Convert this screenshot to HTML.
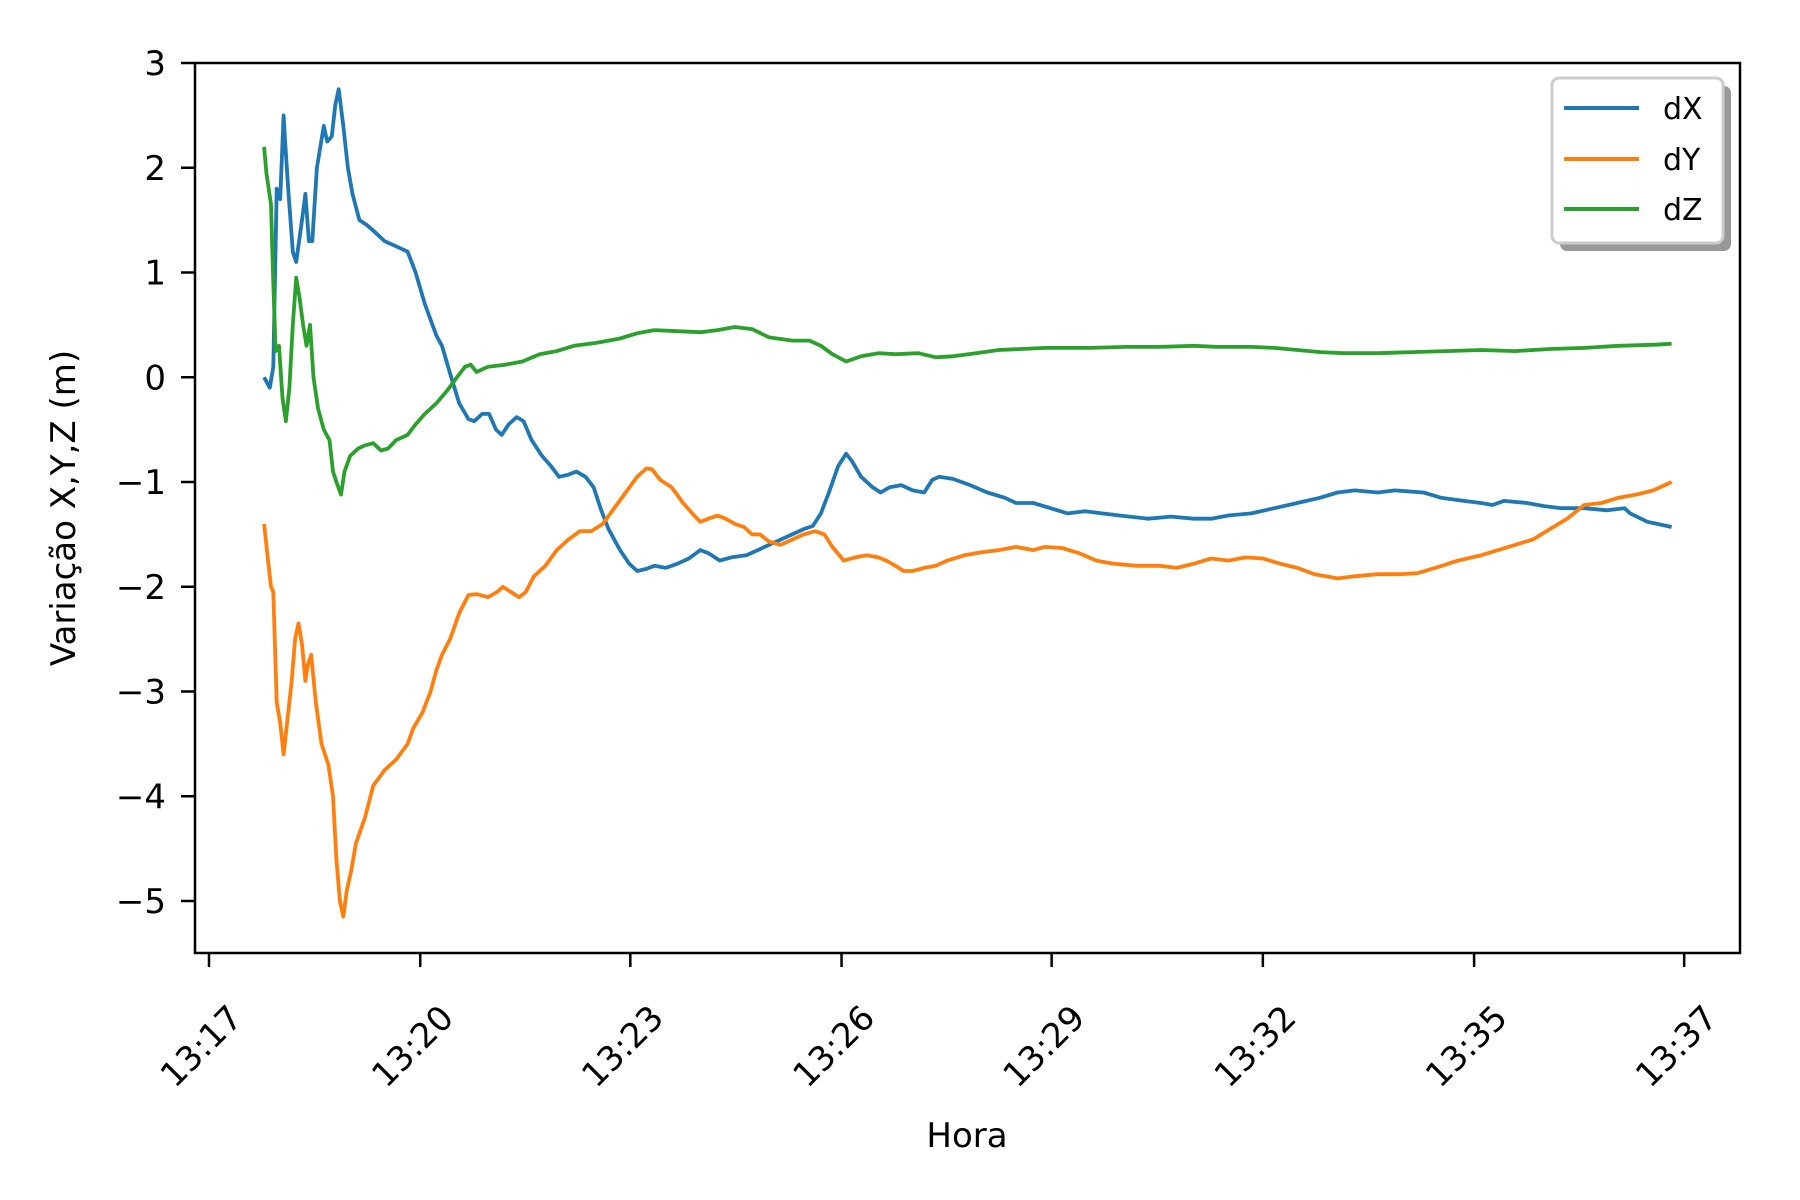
<!DOCTYPE html>
<html><head><meta charset="utf-8"><style>
html,body{margin:0;padding:0;background:#fff;}
svg{display:block;font-family:"DejaVu Sans","Liberation Sans",sans-serif;}
</style></head><body>
<svg id="chart" width="1800" height="1200" viewBox="0 0 1800 1200" xmlns="http://www.w3.org/2000/svg">
<rect x="0" y="0" width="1800" height="1200" fill="#fff"/>
<g id="series"></g>
<rect x="195" y="63" width="1545" height="890" fill="none" stroke="#000" stroke-width="2.5"/>
<g id="axes"></g>
<text x="967" y="1147" font-size="34" text-anchor="middle">Hora</text>
<text transform="translate(75,508) rotate(-90)" font-size="34" text-anchor="middle">Variação X,Y,Z (m)</text>
<g>
<rect x="1560" y="86" width="171" height="165" rx="7" fill="#999"/>
<rect x="1552" y="78" width="171" height="165" rx="7" fill="#fff" stroke="#ccc" stroke-width="3"/>
<line x1="1564" y1="108" x2="1639" y2="108" stroke="#1f77b4" stroke-width="4"/>
<text x="1663" y="119" font-size="30">dX</text>
<line x1="1564" y1="159" x2="1639" y2="159" stroke="#ff7f0e" stroke-width="4"/>
<text x="1663" y="170" font-size="30">dY</text>
<line x1="1564" y1="209" x2="1639" y2="209" stroke="#2ca02c" stroke-width="4"/>
<text x="1663" y="220" font-size="30">dZ</text>
</g>
</svg>
<script>
// time in seconds after 13:17 (approx.), values in metres
const xTickTimes = [0,184,367,551,734,918,1102,1285];
const xTickLabels = ["13:17","13:20","13:23","13:26","13:29","13:32","13:35","13:37"];
const yTickValues = [3,2,1,0,-1,-2,-3,-4,-5];
const yTickLabels = ["3","2","1","0","\u22121","\u22122","\u22123","\u22124","\u22125"];

const dxT = [48,53,56,59,62,65,66,69,73,76,81,84,87,90,94,100,103,107,110,113,117,121,125,131,138,143,148,153,163,173,180,188,198,203,211,218,226,231,238,244,250,255,261,268,274,281,290,298,305,313,320,328,335,341,348,358,366,373,381,388,398,408,418,428,435,445,455,468,478,488,498,508,518,526,533,540,548,555,560,568,578,585,593,603,613,623,630,636,648,663,678,693,703,718,733,748,763,778,793,818,838,858,873,888,908,928,948,968,983,998,1018,1033,1058,1073,1093,1108,1118,1128,1148,1163,1178,1198,1218,1233,1238,1253,1274];
const dxV = [0,-0.1,0.1,1.8,1.7,2.5,2.3,1.8,1.2,1.1,1.5,1.75,1.3,1.3,2.0,2.4,2.25,2.3,2.6,2.75,2.4,2.0,1.75,1.5,1.45,1.4,1.35,1.3,1.25,1.2,1.0,0.7,0.4,0.3,0.0,-0.25,-0.4,-0.42,-0.35,-0.35,-0.5,-0.55,-0.45,-0.38,-0.42,-0.6,-0.75,-0.85,-0.95,-0.93,-0.9,-0.95,-1.05,-1.25,-1.45,-1.65,-1.78,-1.85,-1.83,-1.8,-1.82,-1.78,-1.73,-1.65,-1.68,-1.75,-1.72,-1.7,-1.65,-1.6,-1.55,-1.5,-1.45,-1.42,-1.3,-1.1,-0.85,-0.73,-0.8,-0.95,-1.05,-1.1,-1.05,-1.03,-1.08,-1.1,-0.98,-0.95,-0.97,-1.03,-1.1,-1.15,-1.2,-1.2,-1.25,-1.3,-1.28,-1.3,-1.32,-1.35,-1.33,-1.35,-1.35,-1.32,-1.3,-1.25,-1.2,-1.15,-1.1,-1.08,-1.1,-1.08,-1.1,-1.15,-1.18,-1.2,-1.22,-1.18,-1.2,-1.23,-1.25,-1.25,-1.27,-1.25,-1.3,-1.38,-1.43];

const dyT = [48,51,54,56,59,62,65,68,72,75,78,81,84,86,89,93,98,104,108,111,114,117,120,124,128,136,143,153,163,173,178,186,193,198,203,210,218,226,233,243,251,256,263,270,276,283,293,303,313,323,333,343,353,363,373,381,386,393,403,413,421,428,435,443,450,458,466,473,480,488,498,508,518,528,536,543,553,563,573,583,590,598,605,613,623,633,643,658,673,688,703,718,728,743,758,773,788,808,828,843,858,873,888,903,918,933,948,963,983,998,1018,1038,1053,1068,1088,1108,1123,1138,1153,1168,1183,1198,1213,1228,1243,1258,1274];
const dyV = [-1.4,-1.7,-2.0,-2.05,-3.1,-3.3,-3.6,-3.3,-2.9,-2.5,-2.35,-2.55,-2.9,-2.75,-2.65,-3.1,-3.5,-3.7,-4.0,-4.6,-5.0,-5.15,-4.9,-4.7,-4.45,-4.2,-3.9,-3.75,-3.65,-3.5,-3.35,-3.2,-3.0,-2.8,-2.65,-2.5,-2.25,-2.08,-2.07,-2.1,-2.05,-2.0,-2.05,-2.1,-2.05,-1.9,-1.8,-1.65,-1.55,-1.47,-1.47,-1.4,-1.25,-1.1,-0.95,-0.87,-0.88,-0.98,-1.05,-1.2,-1.3,-1.38,-1.35,-1.32,-1.35,-1.4,-1.43,-1.5,-1.5,-1.57,-1.6,-1.55,-1.5,-1.47,-1.5,-1.62,-1.75,-1.72,-1.7,-1.72,-1.75,-1.8,-1.85,-1.85,-1.82,-1.8,-1.75,-1.7,-1.67,-1.65,-1.62,-1.65,-1.62,-1.63,-1.68,-1.75,-1.78,-1.8,-1.8,-1.82,-1.78,-1.73,-1.75,-1.72,-1.73,-1.78,-1.82,-1.88,-1.92,-1.9,-1.88,-1.88,-1.87,-1.82,-1.75,-1.7,-1.65,-1.6,-1.55,-1.45,-1.35,-1.22,-1.2,-1.15,-1.12,-1.08,-1.0];

const dzT = [48,50,54,56,58,61,64,67,70,73,76,79,82,85,88,91,95,100,105,108,111,115,118,123,130,136,143,150,156,163,173,180,188,198,208,216,223,228,233,243,258,273,288,303,318,338,358,373,388,408,428,443,458,473,488,508,523,533,543,555,568,583,598,618,633,648,668,688,708,728,748,768,798,828,858,878,908,928,948,968,988,1018,1048,1078,1108,1138,1168,1198,1228,1258,1274];
const dzV = [2.2,1.95,1.65,0.9,0.25,0.3,-0.2,-0.42,-0.1,0.5,0.95,0.75,0.5,0.3,0.5,0.0,-0.3,-0.5,-0.6,-0.9,-1.0,-1.12,-0.9,-0.75,-0.68,-0.65,-0.63,-0.7,-0.68,-0.6,-0.55,-0.45,-0.35,-0.25,-0.12,0.0,0.1,0.12,0.05,0.1,0.12,0.15,0.22,0.25,0.3,0.33,0.37,0.42,0.45,0.44,0.43,0.45,0.48,0.46,0.38,0.35,0.35,0.3,0.22,0.15,0.2,0.23,0.22,0.23,0.19,0.2,0.23,0.26,0.27,0.28,0.28,0.28,0.29,0.29,0.3,0.29,0.29,0.28,0.26,0.24,0.23,0.23,0.24,0.25,0.26,0.25,0.27,0.28,0.3,0.31,0.32];

const NS = "http://www.w3.org/2000/svg";
function xPos(t){ return 209 + t*1.148; }
function yPos(v){ return 63 + (3 - v)*104.75; }

const seriesG = document.getElementById("series");
function drawSeries(ts, vs, color, name){
  const p = document.createElementNS(NS, "path");
  let d = "";
  for (let i=0;i<ts.length;i++){ d += (i?"L":"M") + xPos(ts[i]).toFixed(1) + "," + yPos(vs[i]).toFixed(1); }
  p.setAttribute("d", d);
  p.setAttribute("fill", "none");
  p.setAttribute("stroke", color);
  p.setAttribute("stroke-width", "3.8");
  p.setAttribute("stroke-linejoin", "round");
  
  
  seriesG.appendChild(p);
}
drawSeries(dxT, dxV, "#1f77b4", "series-dx-line");
drawSeries(dyT, dyV, "#ff7f0e", "series-dy-line");
drawSeries(dzT, dzV, "#2ca02c", "series-dz-line");

const axesG = document.getElementById("axes");
for (let i=0;i<yTickValues.length;i++){
  const y = yPos(yTickValues[i]);
  const l = document.createElementNS(NS, "line");
  l.setAttribute("x1", 181); l.setAttribute("x2", 195);
  l.setAttribute("y1", y); l.setAttribute("y2", y);
  l.setAttribute("stroke", "#000"); l.setAttribute("stroke-width", "2.5");
  
  
  axesG.appendChild(l);
  const t = document.createElementNS(NS, "text");
  t.setAttribute("x", 166); t.setAttribute("y", y + 12);
  t.setAttribute("font-size", "34"); t.setAttribute("text-anchor", "end");
  t.textContent = yTickLabels[i];
  
  
  axesG.appendChild(t);
}
for (let i=0;i<xTickTimes.length;i++){
  const x = xPos(xTickTimes[i]);
  const l = document.createElementNS(NS, "line");
  l.setAttribute("x1", x); l.setAttribute("x2", x);
  l.setAttribute("y1", 953); l.setAttribute("y2", 967);
  l.setAttribute("stroke", "#000"); l.setAttribute("stroke-width", "2.5");
  
  
  axesG.appendChild(l);
  const t = document.createElementNS(NS, "text");
  t.setAttribute("x", 0); t.setAttribute("y", 12);
  t.setAttribute("font-size", "34"); t.setAttribute("text-anchor", "middle");
  t.setAttribute("transform", "translate(" + (x-8) + ",1046) rotate(-45)");
  t.textContent = xTickLabels[i];
  
  
  axesG.appendChild(t);
}
</script>
</body></html>
